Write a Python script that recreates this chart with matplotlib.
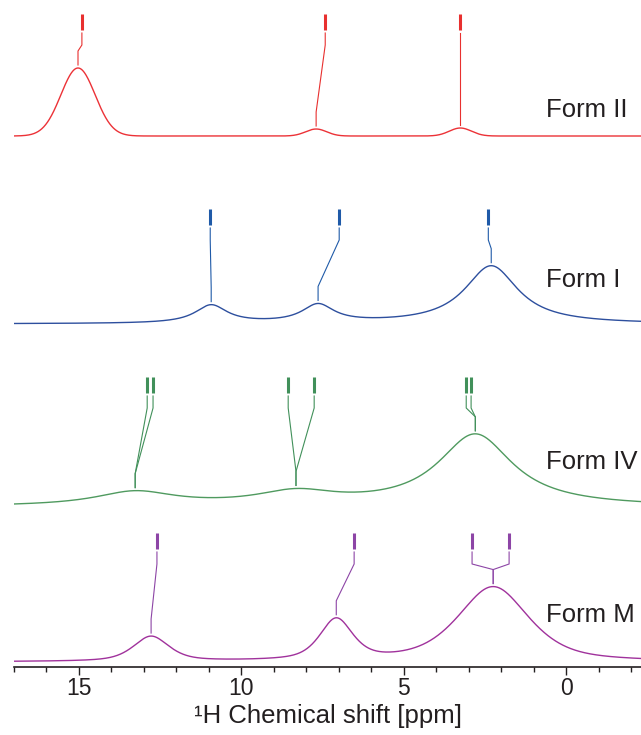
import numpy as np
import matplotlib.pyplot as plt
import matplotlib.transforms as mtransforms

plt.rcParams['font.family'] = ['Liberation Sans', 'DejaVu Sans']

# chemical shift window [ppm]
ppm_left, ppm_right = 17.0, -2.3

forms = ['Form II', 'Form I', 'Form IV', 'Form M']
colors = ['#ec3237', '#2d4f9e', '#4f9a5f', '#a0329c']
mark_colors = ['#e8302f', '#1f5aa8', '#41905a', '#8d45a6']

# stack offset of each trace and lorentzian fraction of its lineshape
baselines = [531, 343, 160, 5]
lorentz_frac = [0.0, 1.0, 1.0, 0.6]

# peaks: centre [ppm], height, half width [ppm]
centres = [
    [15.03, 7.70, 3.26],
    [10.93, 7.64, 2.31],
    [13.27, 8.32, 2.80],
    [12.78, 7.08, 2.25],
]
heights = [
    [68, 7, 8],
    [18, 18, 58],
    [14, 13, 72],
    [25, 41, 75],
]
widths = [
    [0.62, 0.38, 0.40],
    [0.60, 0.60, 1.00],
    [1.50, 1.50, 1.40],
    [0.65, 0.60, 1.30],
]

# assignment sticks [ppm] and the peak each one points at
sticks = [
    [14.91, 7.42, 3.26],
    [10.96, 6.99, 2.40],
    [12.90, 12.72, 8.56, 7.76, 3.08, 2.93],
    [12.60, 6.53, 2.90, 1.76],
]
stick_peak = [
    [0, 1, 2],
    [0, 1, 2],
    [0, 0, 1, 1, 2, 2],
    [0, 1, 2, 2],
]
stick_top = [653, 458, 290, 134]
label_dy = [26, 44, 45, 47]


def lineshape(x, c, h, w, eta):
    u = (x - c) / w
    return h * (eta / (1 + u**2) + (1 - eta) * np.exp(-np.log(2) * u**2))


def spectrum(x, i):
    y = np.full_like(x, baselines[i], dtype=float)
    for c, h, w in zip(centres[i], heights[i], widths[i]):
        y += lineshape(x, c, h, w, lorentz_frac[i])
    return y


W, H = 641, 735
fig = plt.figure(figsize=(W / 100, H / 100), dpi=100)
ax = fig.add_axes([14 / W, 68 / H, 627 / W, 667 / H])
ax.set_xlim(ppm_left, ppm_right)
ax.set_ylim(0, 667)

x = np.linspace(ppm_left, ppm_right, 2000)
for i, name in enumerate(forms):
    ax.plot(x, spectrum(x, i), color=colors[i], lw=1.0)

    for s, k in zip(sticks[i], stick_peak[i]):
        p = centres[i][k]
        top = spectrum(np.array([p]), i)[0]
        T = stick_top[i]
        ax.plot([s, s], [T, T - 16], color=mark_colors[i], lw=2.2,
                solid_capstyle='butt')
        ax.plot([s, s, p, p], [T - 19, T - 31, top + 17, top + 3],
                color=mark_colors[i], lw=0.8)

    trans = mtransforms.blended_transform_factory(ax.transAxes, ax.transData)
    ax.text(0.848, baselines[i] + label_dy[i], name, transform=trans,
            fontsize=18.5, color='#231f20', va='center', ha='left')

for side in ['left', 'right', 'top']:
    ax.spines[side].set_visible(False)
ax.spines['bottom'].set_linewidth(1.2)
ax.spines['bottom'].set_color('#231f20')
ax.set_yticks([])
ax.set_xticks([15, 10, 5, 0])
ax.set_xticks(np.arange(17, -3, -1), minor=True)
ax.tick_params(axis='x', which='major', length=6, width=1.0, colors='#231f20',
               labelsize=16.5, pad=1)
ax.tick_params(axis='x', which='minor', length=3.5, width=1.0, colors='#231f20')
ax.set_xlabel('¹H Chemical shift [ppm]', fontsize=18.5, color='#231f20',
              labelpad=3)

fig.savefig('out.png', dpi=100)
